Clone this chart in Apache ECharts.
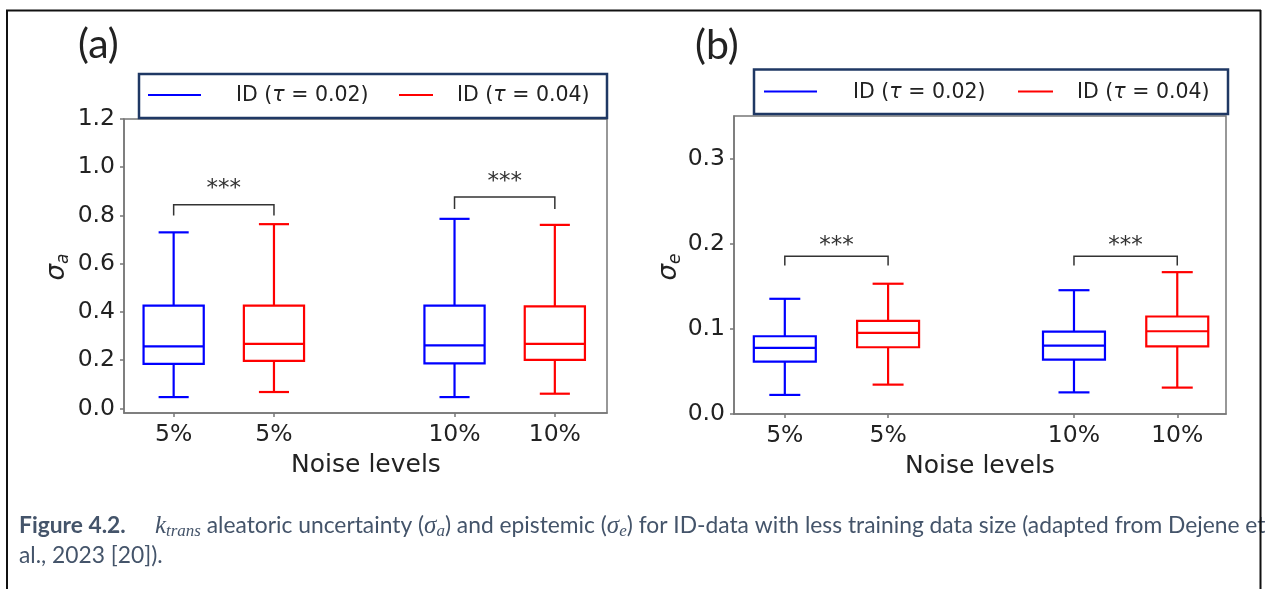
<!DOCTYPE html>
<html>
<head>
<meta charset="utf-8">
<title>k_trans uncertainty vs noise level</title>
<script src="https://cdn.jsdelivr.net/npm/echarts@6/dist/echarts.min.js"></script>
<style>
  html, body { margin: 0; padding: 0; background: #fff; }
  #chart { width: 1265px; height: 589px; }
</style>
</head>
<body>
<div id="chart"></div>
<script>
// ---- data -----------------------------------------------------------
const noiseLabels = ['5%', '5%', '10%', '10%'];
const seriesNames = ['ID (τ = 0.02)', 'ID (τ = 0.04)'];

// box statistics per noise level (5%, 10%): [min, Q1, median, Q3, max]
const aleatoricTau002 = [[0.047, 0.185, 0.257, 0.426, 0.730], [0.047, 0.187, 0.261, 0.426, 0.786]];
const aleatoricTau004 = [[0.068, 0.197, 0.268, 0.426, 0.764], [0.061, 0.201, 0.268, 0.423, 0.761]];
const epistemicTau002 = [[0.0224, 0.0615, 0.0776, 0.0913, 0.1353], [0.0254, 0.0639, 0.0804, 0.0968, 0.1454]];
const epistemicTau004 = [[0.0345, 0.0784, 0.0953, 0.1094, 0.1530], [0.0310, 0.0795, 0.0972, 0.1145, 0.1666]];

// significance brackets per noise level: [bracket top, leg end, star level]
const aleatoricSig = [[0.844, 0.800, 0.935], [0.877, 0.827, 0.963]];
const epistemicSig = [[0.1854, 0.1745, 0.204], [0.1854, 0.1745, 0.204]];

const yTicksA = [0, 0.2, 0.4, 0.6, 0.8, 1.0, 1.2];
const yTicksB = [0, 0.1, 0.2, 0.3];

// ---- layout / style -------------------------------------------------
const groupX = [0, 1, 2.8, 3.8];      // x positions of the four boxes
const BOX_W = 0.6, CAP_W = 0.3;
const BLUE = '#0000ff', RED = '#ff0000';
const AXC = '#777777', TXT = '#222222', CAP_C = '#44546a', NAVY = '#1f3864';
const SANS = 'DejaVu Sans';

function boxData(stats, offset) {
  return stats.map((s, j) => [groupX[2 * j + offset]].concat(s));
}
function sigData(sig) {
  return sig.map((s, j) => [groupX[2 * j], groupX[2 * j + 1]].concat(s));
}

function renderBox(params, api) {
  const x = api.value(0);
  const v = [1, 2, 3, 4, 5].map(d => api.value(d));
  const color = api.visual('color');
  const bw = api.size([BOX_W, 0])[0];
  const cw = api.size([CAP_W, 0])[0];
  const cx = api.coord([x, v[2]])[0];
  const y = v.map(val => api.coord([x, val])[1]);
  const st = { stroke: color, lineWidth: 2.2, fill: null };
  return {
    type: 'group',
    children: [
      { type: 'rect', shape: { x: cx - bw / 2, y: y[3], width: bw, height: y[1] - y[3] }, style: { stroke: color, lineWidth: 2.2, fill: 'rgba(0,0,0,0)' } },
      { type: 'line', shape: { x1: cx - bw / 2, y1: y[2], x2: cx + bw / 2, y2: y[2] }, style: st },
      { type: 'line', shape: { x1: cx, y1: y[3], x2: cx, y2: y[4] }, style: st },
      { type: 'line', shape: { x1: cx, y1: y[1], x2: cx, y2: y[0] }, style: st },
      { type: 'line', shape: { x1: cx - cw / 2, y1: y[4], x2: cx + cw / 2, y2: y[4] }, style: st },
      { type: 'line', shape: { x1: cx - cw / 2, y1: y[0], x2: cx + cw / 2, y2: y[0] }, style: st }
    ]
  };
}

function renderBracket(params, api) {
  const x1 = api.value(0), x2 = api.value(1);
  const top = api.value(2), leg = api.value(3), star = api.value(4);
  const pts = [api.coord([x1, leg]), api.coord([x1, top]), api.coord([x2, top]), api.coord([x2, leg])];
  const s = api.coord([(x1 + x2) / 2, star]);
  return {
    type: 'group',
    children: [
      { type: 'polyline', shape: { points: pts }, style: { stroke: '#333', lineWidth: 1.5, fill: null } },
      { type: 'text', x: s[0], y: s[1] + 6, style: { text: '***', fontSize: 23, fontFamily: SANS, fill: '#333', align: 'center', verticalAlign: 'middle' } }
    ]
  };
}

function xAxisFor(grid, min, max) {
  return {
    gridIndex: grid, type: 'value', min: min, max: max,
    splitLine: { show: false },
    axisLine: { show: true, onZero: false, lineStyle: { color: AXC, width: 1.5 } },
    axisTick: { show: true, length: 4, customValues: groupX, lineStyle: { color: AXC, width: 1.5 } },
    axisLabel: {
      customValues: groupX, margin: 10, color: TXT, fontSize: 23.5, fontFamily: SANS,
      formatter: v => noiseLabels[groupX.findIndex(p => Math.abs(p - v) < 1e-6)] || ''
    }
  };
}
function yAxisFor(grid, min, max, ticks) {
  return {
    gridIndex: grid, type: 'value', min: min, max: max,
    splitLine: { show: false },
    axisLine: { show: true, onZero: false, lineStyle: { color: AXC, width: 1.5 } },
    axisTick: { show: true, length: 4, customValues: ticks, lineStyle: { color: AXC, width: 1.5 } },
    axisLabel: { customValues: ticks, margin: 9, color: TXT, fontSize: 23.5, fontFamily: SANS, formatter: v => v.toFixed(1) }
  };
}

function boxSeries(name, axis, data, color) {
  return {
    name: name, type: 'custom', xAxisIndex: axis, yAxisIndex: axis,
    renderItem: renderBox, itemStyle: { color: color },
    encode: { x: 0, y: [1, 2, 3, 4, 5] }, data: data, z: 3
  };
}
function sigSeries(axis, data) {
  return {
    type: 'custom', xAxisIndex: axis, yAxisIndex: axis, renderItem: renderBracket,
    encode: { x: [0, 1], y: [2, 3, 4] }, data: data, z: 4
  };
}

// legend box drawn as plain graphic shapes
function legendGraphic(box, lines, texts, cy) {
  const out = [{
    type: 'rect', shape: { x: box[0], y: box[1], width: box[2] - box[0], height: box[3] - box[1] },
    style: { fill: '#fff', stroke: NAVY, lineWidth: 2.5 }, z: 50
  }];
  const cols = [BLUE, RED];
  lines.forEach((l, i) => out.push({
    type: 'line', shape: { x1: l[0], y1: cy, x2: l[1], y2: cy }, style: { stroke: cols[i], lineWidth: 2 }, z: 51
  }));
  texts.forEach((tx, i) => {
    const parts = seriesNames[i].split('τ');
    out.push({
      type: 'text', x: tx, y: cy + 1, z: 51,
      style: {
        text: '{n|' + parts[0] + '}{g|τ}{n|' + parts[1] + '}',
        align: 'left', verticalAlign: 'middle',
        rich: {
          n: { fontFamily: SANS, fontSize: 20.5, fill: TXT },
          g: { fontFamily: SANS, fontStyle: 'italic', fontSize: 20.5, fill: TXT }
        }
      }
    });
  });
  return out;
}

function sigmaLabel(x, y, sub) {
  return {
    type: 'text', x: x, y: y, rotation: Math.PI / 2, z: 20,
    style: {
      text: '{s|σ}{u|' + sub + '}', align: 'center', verticalAlign: 'middle',
      rich: {
        s: { fontFamily: SANS, fontStyle: 'italic', fontSize: 26, fill: TXT, lineHeight: 30 },
        u: { fontFamily: SANS, fontStyle: 'italic', fontSize: 17, fill: TXT, lineHeight: 20, verticalAlign: 'bottom' }
      }
    }
  };
}

const capRich = {
  b: { fontFamily: 'Lato', fontWeight: 'bold', fontSize: 22.8, fill: CAP_C, lineHeight: 28 },
  t: { fontFamily: 'Lato', fontSize: 22.8, fill: CAP_C, lineHeight: 28 },
  m: { fontFamily: 'Liberation Serif', fontStyle: 'italic', fontSize: 25, fill: CAP_C, lineHeight: 28 },
  ms: { fontFamily: 'Liberation Serif', fontStyle: 'italic', fontSize: 17, fill: CAP_C, lineHeight: 16, verticalAlign: 'bottom' }
};

const graphics = [
  // frame around the figure
  { type: 'line', shape: { x1: 6, y1: 10.5, x2: 1261, y2: 10.5 }, style: { stroke: '#111', lineWidth: 2 }, z: 100 },
  { type: 'line', shape: { x1: 7, y1: 10, x2: 7, y2: 589 }, style: { stroke: '#111', lineWidth: 2 }, z: 100 },
  { type: 'line', shape: { x1: 1260.5, y1: 10, x2: 1260.5, y2: 589 }, style: { stroke: '#111', lineWidth: 2 }, z: 100 },
  // panel tags
  { type: 'text', x: 78, y: 45, style: { text: '(a)', fontFamily: 'Lato', fontSize: 41, fill: TXT, align: 'left', verticalAlign: 'middle' } },
  { type: 'text', x: 695, y: 46, style: { text: '(b)', fontFamily: 'Lato', fontSize: 41, fill: TXT, align: 'left', verticalAlign: 'middle' } },
  // axis titles
  { type: 'text', x: 366, y: 465, style: { text: 'Noise levels', fontFamily: SANS, fontSize: 25, fill: TXT, align: 'center', verticalAlign: 'middle' } },
  { type: 'text', x: 980, y: 466, style: { text: 'Noise levels', fontFamily: SANS, fontSize: 25, fill: TXT, align: 'center', verticalAlign: 'middle' } },
  sigmaLabel(57, 267, 'a'),
  sigmaLabel(669, 267, 'e'),
  // caption
  {
    type: 'text', x: 19, y: 526, z: 10,
    style: {
      align: 'left', verticalAlign: 'middle', rich: capRich,
      text: '{b|Figure 4.2.}{t|     }{m|k}{ms|trans}{t| aleatoric uncertainty (}{m|σ}{ms|a}{t|) and epistemic (}{m|σ}{ms|e}{t|) for ID-data with less training data size (adapted from Dejene et}'
    }
  },
  {
    type: 'text', x: 19, y: 556, z: 10,
    style: { align: 'left', verticalAlign: 'middle', rich: capRich, text: '{t|al., 2023 [20]).}' }
  }
].concat(
  legendGraphic([139, 74, 607, 118], [[148, 201], [399, 433]], [236, 457], 95),
  legendGraphic([754, 69.5, 1228, 114], [[764, 817], [1018, 1053]], [853, 1077], 91.5)
);

const option = {
  animation: false,
  backgroundColor: '#ffffff',
  grid: [
    { left: 124, top: 119, width: 483, height: 294, show: true, borderColor: AXC, borderWidth: 1.5, backgroundColor: 'transparent', outerBoundsMode: 'none' },
    { left: 734, top: 116, width: 492, height: 298, show: true, borderColor: AXC, borderWidth: 1.5, backgroundColor: 'transparent', outerBoundsMode: 'none' }
  ],
  xAxis: [xAxisFor(0, -0.495, 4.32), xAxisFor(1, -0.492, 4.272)],
  yAxis: [yAxisFor(0, -0.019, 1.2, yTicksA), yAxisFor(1, 0, 0.35, yTicksB)],
  series: [
    boxSeries(seriesNames[0], 0, boxData(aleatoricTau002, 0), BLUE),
    boxSeries(seriesNames[1], 0, boxData(aleatoricTau004, 1), RED),
    sigSeries(0, sigData(aleatoricSig)),
    boxSeries(seriesNames[0], 1, boxData(epistemicTau002, 0), BLUE),
    boxSeries(seriesNames[1], 1, boxData(epistemicTau004, 1), RED),
    sigSeries(1, sigData(epistemicSig))
  ],
  graphic: graphics
};

const chart = echarts.init(document.getElementById('chart'), null, { renderer: 'canvas' });
chart.setOption(option);
</script>
</body>
</html>
